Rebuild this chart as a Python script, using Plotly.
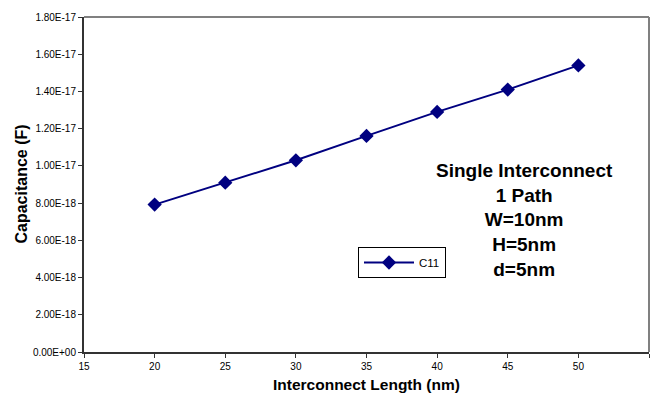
import plotly.graph_objects as go

lengths = [20, 25, 30, 35, 40, 45, 50]
c11 = [7.92e-18, 9.10e-18, 1.030e-17, 1.161e-17, 1.290e-17, 1.410e-17, 1.540e-17]

y_tickvals = [0, 2e-18, 4e-18, 6e-18, 8e-18, 1e-17, 1.2e-17, 1.4e-17, 1.6e-17, 1.8e-17]
y_ticktext = ["0.00E+00", "2.00E-18", "4.00E-18", "6.00E-18", "8.00E-18",
              "1.00E-17", "1.20E-17", "1.40E-17", "1.60E-17", "1.80E-17"]
x_tickvals = [15, 20, 25, 30, 35, 40, 45, 50, 55]

x_title = "Interconnect Length (nm)"
y_title = "Capacitance (F)"
annotation_lines = ["Single Interconnect", "1 Path", "W=10nm", "H=5nm", "d=5nm"]

FONT = "Liberation Sans, Arial, sans-serif"
NAVY = "#000080"

fig = go.Figure()
fig.add_trace(go.Scatter(
    x=lengths, y=c11, name="C11", mode="lines+markers",
    line=dict(color=NAVY, width=2),
    marker=dict(symbol="diamond", size=11, color=NAVY),
))

W, H = 654, 396
L, R, T, B = 84, 5, 17, 44

fig.update_layout(
    width=W, height=H,
    margin=dict(l=L, r=R, t=T, b=B, autoexpand=False),
    paper_bgcolor="white", plot_bgcolor="white",
    font=dict(family=FONT, size=10, color="#000000"),
    showlegend=True,
    legend=dict(
        x=(358 - L) / (W - L - R), y=1 - (247 - T) / (H - T - B),
        xanchor="left", yanchor="top",
        bordercolor="#000000", borderwidth=1,
        font=dict(size=11.5, family=FONT),
        bgcolor="white",
        itemwidth=50,
        tracegroupgap=0,
    ),
    xaxis=dict(
        range=[15, 55], tickmode="array", tickvals=x_tickvals,
        showgrid=False, zeroline=False, automargin=False,
        showline=True, linecolor="#333333", linewidth=2,
        ticks="outside", ticklen=4, tickcolor="#333333",
        tickfont=dict(size=10, family=FONT),
    ),
    yaxis=dict(
        range=[0, 1.8e-17], tickmode="array", tickvals=y_tickvals, ticktext=y_ticktext,
        showgrid=False, zeroline=False, automargin=False,
        showline=True, linecolor="#333333", linewidth=2,
        ticks="outside", ticklen=4, tickcolor="#333333",
        tickfont=dict(size=10, family=FONT),
    ),
    shapes=[
        dict(type="line", xref="paper", yref="paper", x0=0, x1=1, y0=1, y1=1,
             line=dict(color="#808080", width=2)),
        dict(type="line", xref="paper", yref="paper", x0=1, x1=1, y0=0, y1=1,
             line=dict(color="#808080", width=2)),
    ],
)

fig.add_annotation(
    x=0.5, y=0, xref="paper", yref="paper", xanchor="center", yanchor="middle",
    yshift=-(384 - 352), text="<b>%s</b>" % x_title, showarrow=False,
    font=dict(size=15.5, family=FONT, color="#000000"),
)
fig.add_annotation(
    x=0, y=0.5, xref="paper", yref="paper", xanchor="center", yanchor="middle",
    xshift=-(84 - 21), textangle=-90, text="<b>%s</b>" % y_title, showarrow=False,
    font=dict(size=16, family=FONT, color="#000000"),
)

fig.add_annotation(
    x=(524 - L) / (W - L - R), y=1 - (158 - T) / (H - T - B),
    xref="paper", yref="paper", xanchor="center", yanchor="top",
    text="<br>".join("<b>%s</b>" % s for s in annotation_lines),
    showarrow=False, align="center",
    font=dict(size=19, family=FONT, color="#000000"),
)

fig.write_html("out.html")
